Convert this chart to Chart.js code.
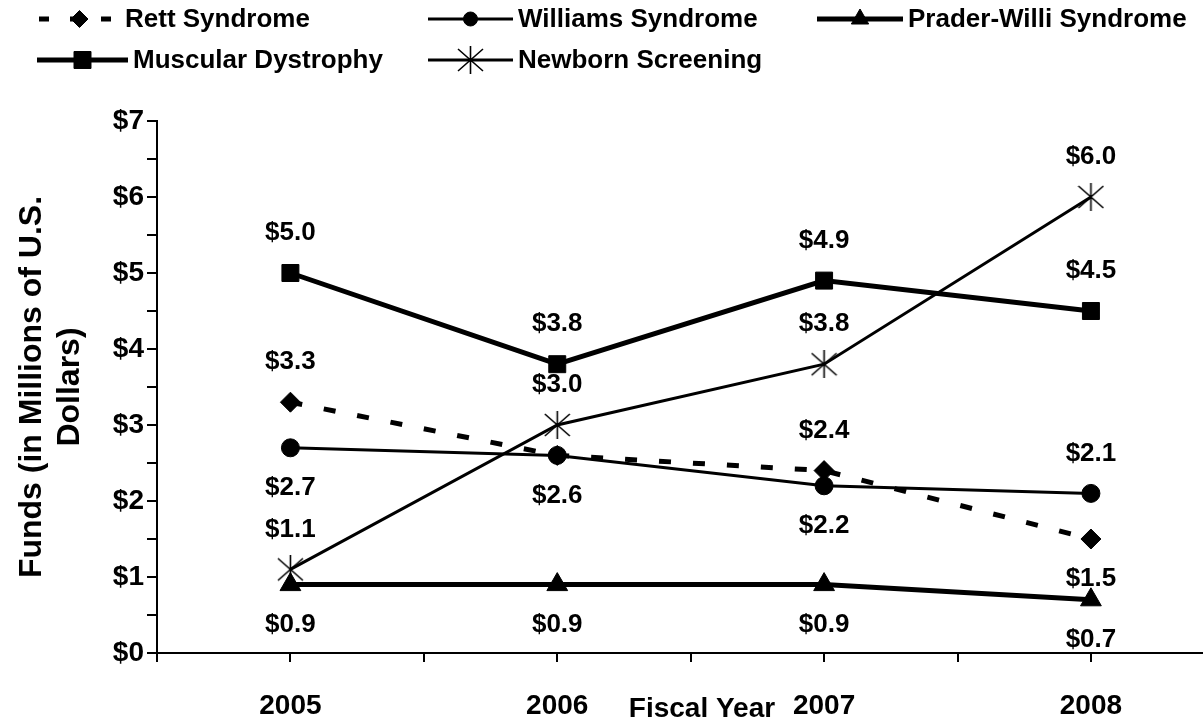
<!DOCTYPE html>
<html>
<head>
<meta charset="utf-8">
<script src="https://cdn.jsdelivr.net/npm/chart.js@4.4.1/dist/chart.umd.min.js"></script>
<style>
  html, body { margin: 0; padding: 0; background: #fff; }
</style>
</head>
<body>
<canvas id="fundsChart" width="1203" height="721"></canvas>
<script>
var years = [2005, 2006, 2007, 2008];
var rettFunds = [3.3, 2.6, 2.4, 1.5];
var williamsFunds = [2.7, 2.6, 2.2, 2.1];
var praderFunds = [0.9, 0.9, 0.9, 0.7];
var muscularFunds = [5.0, 3.8, 4.9, 4.5];
var newbornFunds = [1.1, 3.0, 3.8, 6.0];
var yMin = 0, yMax = 7;

function pts(vals) {
  return years.map(function (yr, i) { return { x: yr, y: vals[i] }; });
}

// asterisk marker for newborn screening
var star = document.createElement('canvas');
star.width = 27; star.height = 28;
var sctx = star.getContext('2d');
sctx.strokeStyle = '#000';
sctx.lineWidth = 1.6;
sctx.beginPath();
sctx.moveTo(1, 3); sctx.lineTo(26, 25);
sctx.moveTo(26, 3); sctx.lineTo(1, 25);
sctx.moveTo(13.5, 0); sctx.lineTo(13.5, 28);
sctx.stroke();

Chart.defaults.font.family = '"Liberation Sans", Arial, sans-serif';
Chart.defaults.font.weight = 'bold';
Chart.defaults.color = '#000';

var common = { borderColor: '#000', backgroundColor: '#000', pointBorderColor: '#000',
  pointBackgroundColor: '#000', pointBorderWidth: 1, tension: 0, fill: false };

var datasets = [
  Object.assign({ label: 'Williams Syndrome', data: pts(williamsFunds), borderWidth: 3,
    pointStyle: 'circle', pointRadius: 9, legendRadius: 7, labelPos: ['below', 'below', 'below', 'above'] }, common),
  Object.assign({ label: 'Muscular Dystrophy', data: pts(muscularFunds), borderWidth: 5,
    pointStyle: 'rect', pointRadius: 12, legendRadius: 12, labelPos: ['above', 'above', 'above', 'above'] }, common),
  Object.assign({ label: 'Newborn Screening', data: pts(newbornFunds), borderWidth: 3,
    pointStyle: star, pointRadius: 13, legendRadius: 13, labelPos: ['above', 'above', 'above', 'above'] }, common),
  Object.assign({ label: 'Prader-Willi Syndrome', data: pts(praderFunds), borderWidth: 5,
    pointStyle: 'triangle', pointRadius: 12, legendRadius: 10, labelPos: ['below', 'below', 'below', 'below'] }, common),
  Object.assign({ label: 'Rett Syndrome', data: pts(rettFunds), borderWidth: 5, borderDash: [12, 22],
    pointStyle: 'rectRot', pointRadius: 10, legendRadius: 8.5, labelPos: ['above', null, 'above', 'below'] }, common)
];

// legend layout: [dataset label, line start, line end, row y]
var legendItems = [
  ['Rett Syndrome', 39, 120, 19],
  ['Williams Syndrome', 428, 513, 19],
  ['Prader-Willi Syndrome', 817, 903, 19],
  ['Muscular Dystrophy', 37, 128, 60],
  ['Newborn Screening', 428, 513, 60]
];

var valueLabels = {
  id: 'valueLabels',
  afterDatasetsDraw: function (chart) {
    var ctx = chart.ctx;
    ctx.save();
    ctx.font = 'bold 26px "Liberation Sans", Arial, sans-serif';
    ctx.fillStyle = '#000';
    ctx.textAlign = 'center';
    ctx.textBaseline = 'middle';
    chart.data.datasets.forEach(function (ds, di) {
      var meta = chart.getDatasetMeta(di);
      meta.data.forEach(function (pt, i) {
        var pos = ds.labelPos[i];
        if (!pos) return;
        var dy = pos === 'above' ? -40 : 40;
        ctx.fillText('$' + ds.data[i].y.toFixed(1), pt.x, pt.y + dy);
      });
    });
    ctx.restore();
  }
};

var customLegend = {
  id: 'customLegend',
  afterDraw: function (chart) {
    var ctx = chart.ctx;
    legendItems.forEach(function (item) {
      var ds = chart.data.datasets.find(function (d) { return d.label === item[0]; });
      var x0 = item[1], x1 = item[2], y = item[3];
      ctx.save();
      ctx.strokeStyle = '#000';
      ctx.fillStyle = '#000';
      ctx.lineWidth = ds.borderWidth;
      if (ds.borderDash) { ctx.setLineDash([10, 21]); }
      ctx.beginPath();
      ctx.moveTo(x0, y);
      ctx.lineTo(x1, y);
      ctx.stroke();
      ctx.setLineDash([]);
      ctx.lineWidth = 1;
      Chart.helpers.drawPoint(ctx, {
        pointStyle: ds.pointStyle, radius: ds.legendRadius, rotation: 0, borderWidth: 1
      }, (x0 + x1) / 2, y);
      ctx.font = 'bold 26px "Liberation Sans", Arial, sans-serif';
      ctx.textAlign = 'left';
      ctx.textBaseline = 'middle';
      ctx.fillText(item[0], x1 + 5, y + 1);
      ctx.restore();
    });
  }
};

var xTitle = {
  id: 'xTitle',
  afterDraw: function (chart) {
    var ctx = chart.ctx;
    ctx.save();
    ctx.font = 'bold 28px "Liberation Sans", Arial, sans-serif';
    ctx.fillStyle = '#000';
    ctx.textAlign = 'center';
    ctx.textBaseline = 'middle';
    ctx.fillText('Fiscal Year', 702, 709);
    ctx.restore();
  }
};

new Chart(document.getElementById('fundsChart'), {
  type: 'line',
  data: { datasets: datasets },
  plugins: [valueLabels, customLegend, xTitle],
  options: {
    responsive: false,
    animation: false,
    layout: { autoPadding: false, padding: { top: 121, left: 0, right: 0, bottom: 0 } },
    plugins: { legend: { display: false }, tooltip: { enabled: false } },
    scales: {
      x: {
        type: 'linear',
        min: years[0] - 0.5,
        max: 2008.42,
        afterFit: function (scale) {
          scale.height = 68;
          scale.paddingLeft = 0;
          scale.paddingRight = 0;
        },
        border: { display: true, color: '#000', width: 2 },
        grid: { drawOnChartArea: false, drawTicks: true, tickLength: 9, color: '#000', lineWidth: 2 },
        ticks: {
          stepSize: 0.5,
          includeBounds: false,
          autoSkip: false,
          maxRotation: 0,
          padding: 27,
          font: { size: 28, weight: 'bold' },
          callback: function (v) { return Number.isInteger(v) ? String(v) : ''; }
        }
      },
      y: {
        min: yMin,
        max: yMax,
        afterFit: function (scale) { scale.width = 157; },
        border: { display: true, color: '#000', width: 2 },
        grid: { drawOnChartArea: false, drawTicks: true, tickLength: 10, color: '#000', lineWidth: 2 },
        ticks: {
          stepSize: 0.5,
          padding: 3,
          font: { size: 28, weight: 'bold' },
          callback: function (v) { return Number.isInteger(v) ? '$' + v : ''; }
        },
        title: {
          display: true,
          text: ['Funds (in Millions of U.S.', 'Dollars)'],
          font: { size: 32, weight: 'bold', lineHeight: 1.2 },
          padding: { top: 13, bottom: 0 }
        }
      }
    }
  }
});
</script>
</body>
</html>
